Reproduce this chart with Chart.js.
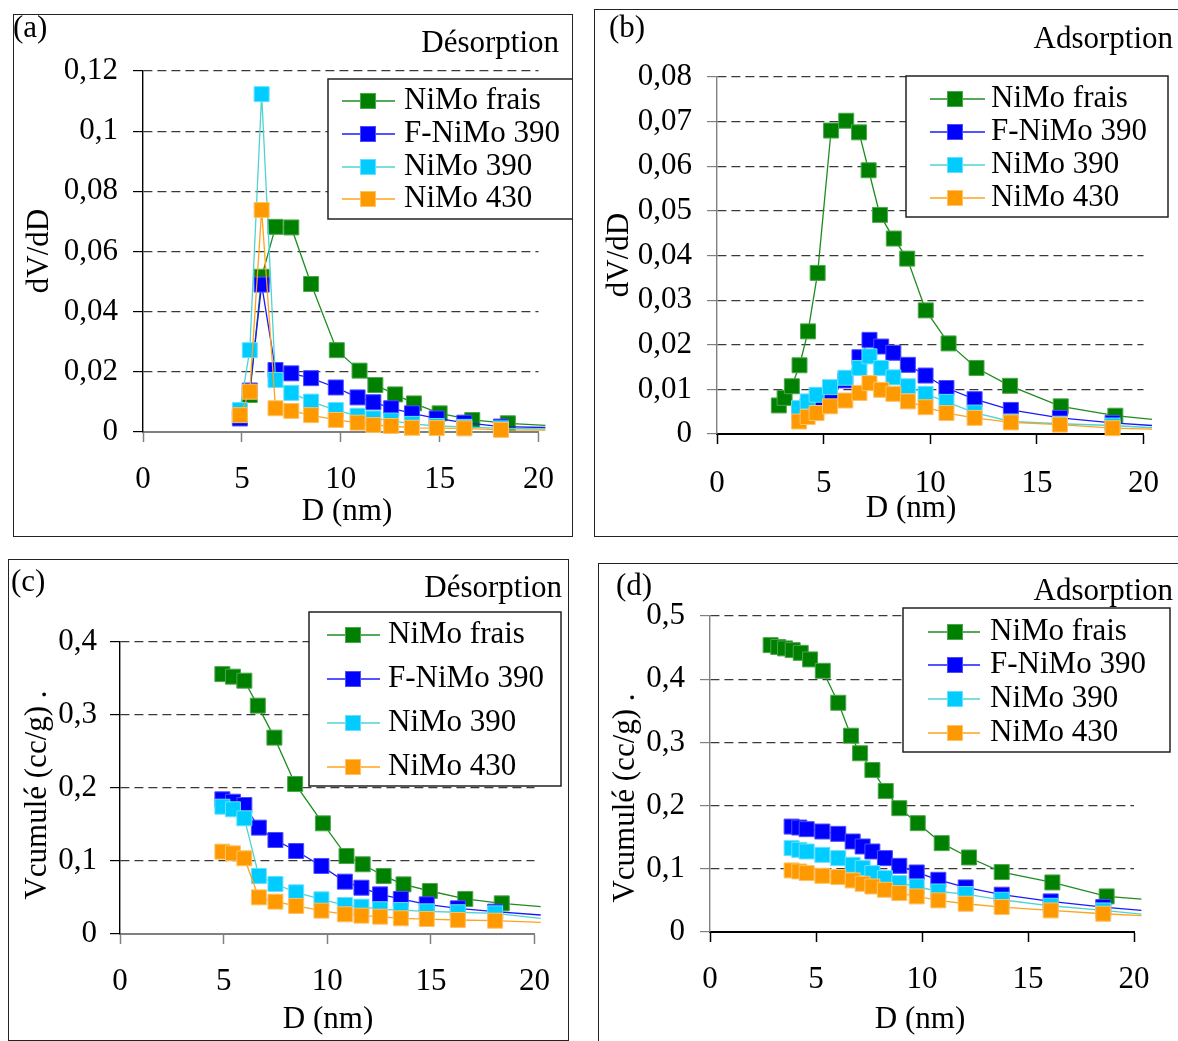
<!DOCTYPE html>
<html lang="fr">
<head>
<meta charset="UTF-8">
<title>Distribution poreuse NiMo</title>
<script src="https://cdn.jsdelivr.net/npm/chart.js@4.4.0/dist/chart.umd.min.js"></script>
<style>
  html, body { margin: 0; padding: 0; background: #fff; overflow: hidden; }
  body { width: 1178px; height: 1041px; position: relative; }
  .panel { position: absolute; }
  .panel canvas { position: absolute; left: 0; top: 0; }
  .frame { position: absolute; left: 0; top: 0; right: 0; bottom: 0;
           border: 1.5px solid #222; box-sizing: border-box; pointer-events: none; }
</style>
</head>
<body>

<div class="panel" style="left:13px;top:14px;width:560px;height:523px">
  <canvas id="chartA" width="560" height="523"></canvas><div class="frame"></div>
</div>
<div class="panel" style="left:594px;top:9px;width:586px;height:528px">
  <canvas id="chartB" width="586" height="528"></canvas><div class="frame"></div>
</div>
<div class="panel" style="left:8px;top:559px;width:561px;height:482px">
  <canvas id="chartC" width="561" height="482"></canvas><div class="frame"></div>
</div>
<div class="panel" style="left:598px;top:563px;width:586px;height:479px">
  <canvas id="chartD" width="586" height="479"></canvas><div class="frame"></div>
</div>

<script>
// ---- data ----
const seriesNames = ['NiMo frais', 'F-NiMo 390', 'NiMo 390', 'NiMo 430'];

const xTicks = [0, 5, 10, 15, 20];
const yTicksA = [0, 0.02, 0.04, 0.06, 0.08, 0.1, 0.12];
const yTicksB = [0, 0.01, 0.02, 0.03, 0.04, 0.05, 0.06, 0.07, 0.08];
const yTicksC = [0, 0.1, 0.2, 0.3, 0.4];
const yTicksD = [0, 0.1, 0.2, 0.3, 0.4, 0.5];

// (a) desorption dV/dD  (last point = where the line leaves the plot)
const dA_frais = [4.9, 5.4, 6.0, 6.7, 7.5, 8.5, 9.8, 10.95, 11.75, 12.75, 13.7, 15.0, 16.65, 18.45, 20.35];
const dA       = [4.9, 5.4, 6.0, 6.7, 7.5, 8.5, 9.75, 10.85, 11.65, 12.55, 13.6, 14.85, 16.25, 18.1, 20.35];
const a_frais  = [0.005, 0.0123, 0.0516, 0.0682, 0.068, 0.0492, 0.0272, 0.0204, 0.0156, 0.0125, 0.0095, 0.0062, 0.004, 0.0029, 0.0022];
const a_f390   = [0.0045, 0.0138, 0.049, 0.0206, 0.0195, 0.0179, 0.0148, 0.0115, 0.0099, 0.0079, 0.0062, 0.0045, 0.0031, 0.0018, 0.0015];
const a_390    = [0.0073, 0.0272, 0.1123, 0.0173, 0.013, 0.0101, 0.0073, 0.0054, 0.0045, 0.0038, 0.0027, 0.002, 0.0017, 0.0012, 0.001];
const a_430    = [0.0056, 0.0134, 0.0738, 0.0079, 0.007, 0.0056, 0.004, 0.0031, 0.0023, 0.002, 0.0014, 0.0013, 0.0012, 0.0007, 0.0006];

// (b) adsorption dV/dD
const dB_frais = [2.9, 3.17, 3.51, 3.87, 4.27, 4.72, 5.35, 6.06, 6.66, 7.11, 7.64, 8.29, 8.92, 9.79, 10.86, 12.17, 13.74, 16.12, 18.68, 20.4];
const dB       = [3.85, 4.25, 4.67, 5.3, 6.02, 6.68, 7.15, 7.7, 8.27, 8.95, 9.78, 10.76, 12.08, 13.78, 16.08, 18.55, 20.4];
const b_frais  = [0.0064, 0.0081, 0.0107, 0.0154, 0.023, 0.0361, 0.068, 0.0702, 0.0676, 0.0591, 0.0491, 0.0438, 0.0393, 0.0277, 0.0203, 0.0148, 0.0108, 0.0062, 0.0041, 0.0033];
const b_f390   = [0.005, 0.0062, 0.0072, 0.0083, 0.012, 0.0172, 0.0211, 0.0196, 0.0182, 0.0155, 0.0131, 0.0103, 0.0078, 0.0054, 0.0036, 0.0025, 0.0019];
const b_390    = [0.0058, 0.0073, 0.0088, 0.0105, 0.0126, 0.0148, 0.0174, 0.0148, 0.0127, 0.0107, 0.009, 0.0072, 0.0048, 0.0028, 0.0023, 0.0019, 0.0014];
const b_430    = [0.0028, 0.0038, 0.0047, 0.0062, 0.0075, 0.0092, 0.0114, 0.0099, 0.009, 0.0073, 0.006, 0.0047, 0.0036, 0.0026, 0.0021, 0.0013, 0.0011];

// (c) desorption, cumulated volume
const dC_frais = [4.94, 5.45, 6.0, 6.65, 7.45, 8.45, 9.79, 10.93, 11.71, 12.72, 13.68, 14.95, 16.66, 18.42, 20.3];
const dC       = [4.94, 5.45, 6.0, 6.7, 7.5, 8.5, 9.72, 10.85, 11.65, 12.55, 13.55, 14.8, 16.3, 18.1, 20.3];
const c_frais  = [0.356, 0.3525, 0.347, 0.3128, 0.269, 0.2055, 0.1516, 0.1068, 0.0955, 0.0795, 0.068, 0.0589, 0.048, 0.042, 0.0374];
const c_f390   = [0.1845, 0.1812, 0.1767, 0.1457, 0.1288, 0.1137, 0.0932, 0.0717, 0.0634, 0.0543, 0.048, 0.0406, 0.0352, 0.0306, 0.026];
const c_390    = [0.1744, 0.1708, 0.1585, 0.0795, 0.0685, 0.0571, 0.0475, 0.0397, 0.0374, 0.0338, 0.0328, 0.031, 0.0298, 0.0283, 0.0215];
const c_430    = [0.1128, 0.1105, 0.1037, 0.0502, 0.0443, 0.0384, 0.032, 0.027, 0.0251, 0.0237, 0.0215, 0.0205, 0.0192, 0.0182, 0.016];

// (d) adsorption, cumulated volume
const dD_frais = [2.86, 3.22, 3.54, 3.9, 4.28, 4.72, 5.32, 6.05, 6.65, 7.08, 7.66, 8.29, 8.93, 9.8, 10.93, 12.22, 13.76, 16.15, 18.71, 20.35];
const dD       = [3.85, 4.21, 4.56, 5.3, 6.05, 6.73, 7.2, 7.66, 8.25, 8.93, 9.75, 10.77, 12.06, 13.76, 16.07, 18.55, 20.35];
const d_frais  = [0.4539, 0.451, 0.4487, 0.446, 0.4417, 0.4313, 0.4133, 0.3627, 0.3106, 0.2828, 0.2564, 0.2232, 0.1959, 0.1722, 0.1406, 0.1179, 0.0948, 0.0784, 0.0563, 0.052];
const d_f390   = [0.1668, 0.1653, 0.1627, 0.159, 0.1553, 0.1432, 0.1353, 0.1274, 0.1169, 0.1047, 0.0942, 0.0826, 0.0705, 0.059, 0.0484, 0.0395, 0.0341];
const d_390    = [0.1327, 0.13, 0.1274, 0.1221, 0.1169, 0.1063, 0.1011, 0.0932, 0.0853, 0.0774, 0.072, 0.0641, 0.06, 0.051, 0.0415, 0.0341, 0.0284];
const d_430    = [0.0974, 0.0958, 0.0932, 0.0889, 0.0869, 0.0816, 0.0763, 0.072, 0.0668, 0.0616, 0.0563, 0.05, 0.0447, 0.0395, 0.0341, 0.0289, 0.0258];

// ---- styles ----
const FONT = 'Liberation Serif';
const FS = 31;
const markerColors = ['#008000', '#0000FF', '#00CCFF', '#FF9900'];
const markerEdges  = ['#4CA64C', '#4D4DFF', '#66E0FF', '#FFC266'];
const lineColors   = ['#1E8C1E', '#1A1AFF', '#4FD3D3', '#FFA31A'];

function fmt(v) {
  return String(Math.round(v * 1000) / 1000).replace('.', ',');
}

const decoPlugin = {
  id: 'panelDeco',
  afterDraw(chart, args, o) {
    const c = chart.ctx;
    c.save();
    const L = o.legend;
    c.fillStyle = '#fff';
    c.fillRect(L.x, L.y, L.w, L.h);
    c.strokeStyle = '#222';
    c.lineWidth = 1.5;
    c.strokeRect(L.x, L.y, L.w, L.h);
    c.font = FS + 'px "' + FONT + '"';
    c.textBaseline = 'middle';
    seriesNames.forEach((name, i) => {
      const y = L.rows[i];
      c.strokeStyle = lineColors[i];
      c.lineWidth = 1.3;
      c.beginPath(); c.moveTo(L.x0, y); c.lineTo(L.x1, y); c.stroke();
      c.fillStyle = markerColors[i];
      c.strokeStyle = markerEdges[i];
      c.lineWidth = 1;
      c.fillRect(L.mx - 7.5, y - 7.5, 15, 15);
      c.strokeRect(L.mx - 7.5, y - 7.5, 15, 15);
      c.fillStyle = '#000';
      c.textAlign = 'left';
      c.fillText(name, L.tx, y);
    });
    o.texts.forEach(t => {
      c.save();
      c.translate(t.x, t.y);
      if (t.rot) c.rotate(t.rot);
      c.fillStyle = '#000';
      c.textAlign = t.align || 'left';
      c.textBaseline = t.base || 'alphabetic';
      c.fillText(t.t, 0, 0);
      c.restore();
    });
    c.restore();
  }
};

function makePanel(p) {
  const datasets = p.series.map((s, i) => ({
    label: seriesNames[i],
    data: s.x.map((x, k) => ({x: x, y: s.y[k]})),
    borderColor: lineColors[i],
    borderWidth: 1.3,
    backgroundColor: markerColors[i],
    pointBackgroundColor: markerColors[i],
    pointBorderColor: markerEdges[i],
    pointBorderWidth: 1,
    pointStyle: 'rect',
    pointRadius: ctx => ctx.dataIndex === s.x.length - 1 ? 0 : 10.6,
    tension: 0,
    clip: false,
    order: 4 - i
  }));
  const font = {family: FONT, size: FS};
  return new Chart(document.getElementById(p.id), {
    type: 'line',
    data: {datasets: datasets},
    plugins: [decoPlugin],
    options: {
      responsive: false,
      animation: false,
      events: [],
      layout: {padding: {left: 0, top: p.area.top, right: p.w - p.area.right, bottom: 0}},
      scales: {
        x: {
          type: 'linear', min: 0, max: 20,
          afterBuildTicks: s => { s.ticks = xTicks.map(v => ({value: v})); },
          afterFit: s => { s.height = p.h - p.area.bottom; },
          grid: {drawOnChartArea: false, tickLength: 10, tickColor: p.xAxisColor, tickWidth: 1.5},
          border: {color: p.xAxisColor, width: 2},
          ticks: {font: font, color: '#000', padding: p.xPad, maxRotation: 0, callback: v => String(v)}
        },
        y: {
          type: 'linear', min: 0, max: p.yTicks[p.yTicks.length - 1],
          afterBuildTicks: s => { s.ticks = p.yTicks.map(v => ({value: v})); },
          afterFit: s => { s.width = p.area.left; },
          grid: {
            color: ctx => (ctx.tick && ctx.tick.value === 0) ? 'rgba(0,0,0,0)' : '#3a3a3a',
            lineWidth: 1.2, tickLength: 10, tickColor: p.yAxisColor, tickWidth: 1.2, tickBorderDash: []
          },
          border: {color: p.yAxisColor, width: 1.4, dash: [9, 5]},
          ticks: {font: font, color: '#000', padding: p.yPad, callback: v => fmt(v)}
        }
      },
      plugins: {
        legend: {display: false},
        tooltip: {enabled: false},
        panelDeco: {legend: p.legend, texts: p.texts}
      }
    }
  });
}

makePanel({
  id: 'chartA', w: 560, h: 523,
  area: {left: 130, right: 540, top: 57, bottom: 418},
  yTicks: yTicksA, xPad: 19, yPad: 15, xAxisColor: '#808080', yAxisColor: '#000',
  series: [{x: dA_frais, y: a_frais}, {x: dA, y: a_f390}, {x: dA, y: a_390}, {x: dA, y: a_430}],
  legend: {x: 315, y: 65, w: 245, h: 140, rows: [87, 120, 153, 185], x0: 329, x1: 382, mx: 355, tx: 391},
  texts: [
    {t: '(a)', x: 0, y: 23},
    {t: 'Désorption', x: 546, y: 38, align: 'right'},
    {t: 'dV/dD', x: 27, y: 237, align: 'center', base: 'middle', rot: -Math.PI / 2},
    {t: 'D (nm)', x: 334, y: 498, align: 'center', base: 'middle'}
  ]
});

makePanel({
  id: 'chartB', w: 586, h: 528,
  area: {left: 123, right: 565, top: 68, bottom: 425},
  yTicks: yTicksB, xPad: 21, yPad: 15, xAxisColor: '#000', yAxisColor: '#808080',
  series: [{x: dB_frais, y: b_frais}, {x: dB, y: b_f390}, {x: dB, y: b_390}, {x: dB, y: b_430}],
  legend: {x: 312, y: 67, w: 262, h: 141, rows: [90, 123, 156, 189], x0: 336, x1: 391, mx: 361, tx: 397},
  texts: [
    {t: '(b)', x: 15, y: 28},
    {t: 'Adsorption', x: 579, y: 39, align: 'right'},
    {t: 'dV/dD', x: 26, y: 246, align: 'center', base: 'middle', rot: -Math.PI / 2},
    {t: 'D (nm)', x: 317, y: 500, align: 'center', base: 'middle'}
  ]
});

makePanel({
  id: 'chartC', w: 561, h: 482,
  area: {left: 112, right: 529, top: 83, bottom: 375},
  yTicks: yTicksC, xPad: 19, yPad: 13, xAxisColor: '#808080', yAxisColor: '#000',
  series: [{x: dC_frais, y: c_frais}, {x: dC, y: c_f390}, {x: dC, y: c_390}, {x: dC, y: c_430}],
  legend: {x: 301, y: 53, w: 252, h: 174, rows: [76, 120, 164, 208], x0: 319, x1: 372, mx: 345, tx: 380},
  texts: [
    {t: '(c)', x: 3, y: 32},
    {t: 'Désorption', x: 554, y: 38, align: 'right'},
    {t: 'Vcumulé (cc/g) .', x: 30, y: 236, align: 'center', base: 'middle', rot: -Math.PI / 2},
    {t: 'D (nm)', x: 320, y: 461, align: 'center', base: 'middle'}
  ]
});

makePanel({
  id: 'chartD', w: 586, h: 479,
  area: {left: 112, right: 536, top: 53, bottom: 369},
  yTicks: yTicksD, xPad: 19, yPad: 15, xAxisColor: '#000', yAxisColor: '#808080',
  series: [{x: dD_frais, y: d_frais}, {x: dD, y: d_f390}, {x: dD, y: d_390}, {x: dD, y: d_430}],
  legend: {x: 305, y: 45, w: 267, h: 144, rows: [69, 102, 136, 170], x0: 330, x1: 382, mx: 357, tx: 392},
  texts: [
    {t: '(d)', x: 18, y: 32},
    {t: 'Adsorption', x: 575, y: 37, align: 'right'},
    {t: 'Vcumulé (cc/g) .', x: 28, y: 235, align: 'center', base: 'middle', rot: -Math.PI / 2},
    {t: 'D (nm)', x: 322, y: 457, align: 'center', base: 'middle'}
  ]
});
</script>
</body>
</html>
